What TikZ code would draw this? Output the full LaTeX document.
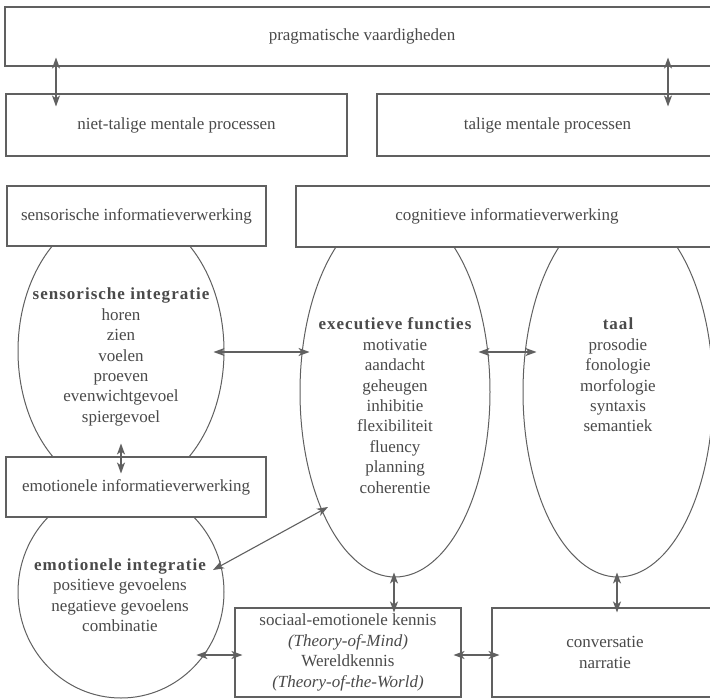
\documentclass[tikz,border=0pt]{standalone}
\usepackage{fontspec}
\setmainfont{Liberation Serif}
\newfontfamily\hdfont[LetterSpace=6]{Liberation Serif}
\usetikzlibrary{shapes.geometric,arrows.meta,calc}
\definecolor{ink}{HTML}{4A4A4A}
\definecolor{lin}{HTML}{606060}
\begin{document}
\begin{tikzpicture}[x=1pt,y=-1pt,
  box/.style={draw=lin, line width=1.1pt, fill=white, inner sep=0pt, align=center,
    font=\fontsize{17}{20.4}\selectfont, text=ink},
  oval/.style={draw=lin, line width=1pt, ellipse, inner sep=0pt},
  lbl/.style={align=center, text=ink, font=\fontsize{17}{20.4}\selectfont, inner sep=0pt},
  arr/.style={draw=lin, line width=1.1pt, {Stealth[length=11pt,width=8pt,inset=3pt]}-{Stealth[length=11pt,width=8pt,inset=3pt]}}
]
\useasboundingbox (0,0) rectangle (710,699);
\clip (0,0) rectangle (710,699);
\fill[white] (0,0) rectangle (710,699);

% ellipses
\node[oval, minimum width=206pt, minimum height=282pt] (sens) at (121,351) {};
\node[oval, minimum width=190pt, minimum height=370pt] (exec) at (395,392) {};
\node[oval, minimum width=190pt, minimum height=370pt] (taal) at (618,392) {};
\node[oval, minimum width=206pt, minimum height=212pt] (emo) at (121,592) {};

% boxes
\node[box, minimum width=714pt, minimum height=59pt] (prag) at (362,36.5) {pragmatische vaardigheden};
\node[box, minimum width=341pt, minimum height=62pt] (niet) at (176.5,125) {niet-talige mentale processen};
\node[box, minimum width=341pt, minimum height=62pt] (talig) at (547.5,125) {talige mentale processen};
\node[box, minimum width=259pt, minimum height=60pt] (sensbox) at (136.5,216) {sensorische informatieverwerking};
\node[box, minimum width=422pt, minimum height=61pt] (cogbox) at (507,216.5) {cognitieve informatieverwerking};
\node[box, minimum width=260pt, minimum height=60pt] (emobox) at (136,487) {emotionele informatieverwerking};
\node[box, minimum width=226pt, minimum height=89pt] (soc) at (348,652.5) {sociaal-emotionele kennis\\\textit{(Theory-of-Mind)}\\Wereldkennis\\\textit{(Theory-of-the-World)}};
\node[box, minimum width=226pt, minimum height=89pt] (conv) at (605,652.5) {conversatie\\narratie};

% ellipse texts
\node[lbl] (senst) at (121,357) {{\hdfont\bfseries sensorische integratie}\\horen\\zien\\voelen\\proeven\\evenwichtgevoel\\spiergevoel};
\node[lbl] (exect) at (395,405.5) {{\hdfont\bfseries executieve functies}\\motivatie\\aandacht\\geheugen\\inhibitie\\flexibiliteit\\fluency\\planning\\coherentie};
\node[lbl] (taalt) at (618,375) {{\hdfont\bfseries taal}\\prosodie\\fonologie\\morfologie\\syntaxis\\semantiek};
\node[lbl] (emot) at (120,595) {{\hdfont\bfseries emotionele integratie}\\positieve gevoelens\\negatieve gevoelens\\combinatie};

% arrows
\coordinate (al) at (56,0);
\coordinate (ar) at (668,0);
\draw[arr, shorten <=-9pt, shorten >=-13pt] (prag.south -| al) -- (niet.north -| al);
\draw[arr, shorten <=-9pt, shorten >=-13pt] (prag.south -| ar) -- (talig.north -| ar);
\draw[arr] ([shift={(0,-49)}]sens.south) -- ([shift={(0,-19)}]sens.south);
\draw[arr] ([shift={(-11,1)}]sens.east) -- ([shift={(10,-40)}]exec.west);
\draw[arr] ([shift={(-12,-40)}]exec.east) -- ([shift={(14,-40)}]taal.west);
\draw[arr] ([shift={(92,-22)}]emo.center) -- ([shift={(-67,115)}]exec.center);
\draw[arr] ([shift={(-38,2.5)}]soc.west) -- ([shift={(8,2.5)}]soc.west);
\draw[arr] ([shift={(-8,2.5)}]soc.east) -- ([shift={(8,2.5)}]conv.west);
\draw[arr] ([shift={(-1,-5)}]exec.south) -- ([shift={(46,5)}]soc.north);
\draw[arr] ([shift={(-1,-5)}]taal.south) -- ([shift={(12,5)}]conv.north);
\end{tikzpicture}
\end{document}
